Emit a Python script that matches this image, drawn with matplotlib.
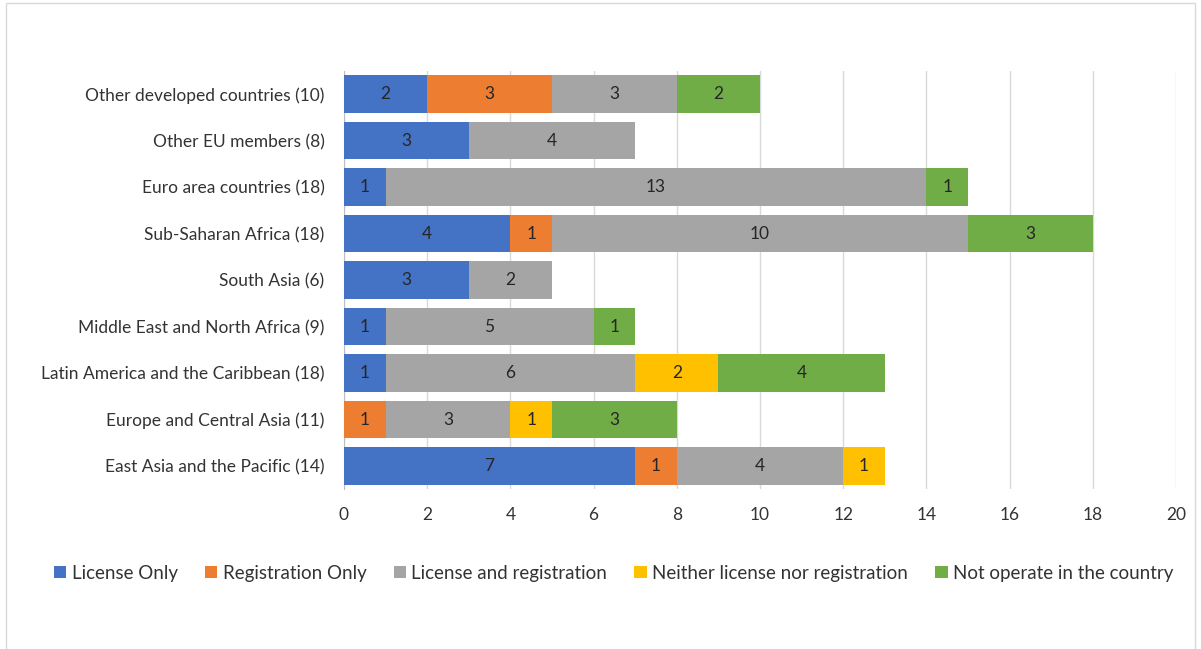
import numpy as np
import matplotlib.pyplot as plt
from matplotlib.patches import Rectangle

plt.rcParams['font.family'] = ['Lato', 'DejaVu Sans']

regions = ['Other developed countries (10)', 'Other EU members (8)', 'Euro area countries (18)',
           'Sub-Saharan Africa (18)', 'South Asia (6)', 'Middle East and North Africa (9)',
           'Latin America and the Caribbean (18)', 'Europe and Central Asia (11)',
           'East Asia and the Pacific (14)']
license_only = [2, 3, 1, 4, 3, 1, 1, 0, 7]
registration_only = [3, 0, 0, 1, 0, 0, 0, 1, 1]
license_and_reg = [3, 4, 13, 10, 2, 5, 6, 3, 4]
neither = [0, 0, 0, 0, 0, 0, 2, 1, 1]
not_operate = [2, 0, 1, 3, 0, 1, 4, 3, 0]

series = [
    ('License Only', license_only, '#4472C4'),
    ('Registration Only', registration_only, '#ED7D31'),
    ('License and registration', license_and_reg, '#A5A5A5'),
    ('Neither license nor registration', neither, '#FFC000'),
    ('Not operate in the country', not_operate, '#70AD47'),
]

fig = plt.figure(figsize=(12.01, 6.49), dpi=100)
ax = fig.add_axes([0.2864, 0.246, 0.6928, 0.645])

# top row first
y = np.arange(len(regions))[::-1]
left = np.zeros(len(regions))
for name, vals, color in series:
    vals = np.array(vals, dtype=float)
    ax.barh(y, vals, left=left, height=0.8, color=color, label=name, zorder=3)
    for yi, l, v in zip(y, left, vals):
        if v > 0:
            ax.text(l + v / 2, yi, f'{int(v)}', ha='center', va='center',
                    fontsize=12.5, color='#262626', zorder=4)
    left += vals

ax.set_xlim(0, 20)
ax.set_ylim(-0.5, len(regions) - 0.5)
ax.set_xticks(np.arange(0, 21, 2))
ax.set_yticks(y)
ax.set_yticklabels(regions)
ax.grid(axis='x', color='#D9D9D9', linewidth=1, zorder=0)
for s in ['top', 'right', 'bottom']:
    ax.spines[s].set_visible(False)
ax.spines['left'].set_color('#BFBFBF')
ax.tick_params(axis='both', length=0, labelsize=12.5, labelcolor='#333333')
ax.tick_params(axis='x', pad=13)
ax.tick_params(axis='y', pad=14)

handles, labels = ax.get_legend_handles_labels()
fig.legend(handles, labels, loc='center', bbox_to_anchor=(0.511, 0.117), ncol=5,
           frameon=False, fontsize=13.5, handlelength=0.65, handleheight=0.65,
           handletextpad=0.3, columnspacing=1.45, labelcolor='#333333')

fig.add_artist(Rectangle((0.005, -0.01), 0.99, 1.005, transform=fig.transFigure,
                         fill=False, edgecolor='#D9D9D9', linewidth=1))

fig.savefig('out.png', dpi=100)
